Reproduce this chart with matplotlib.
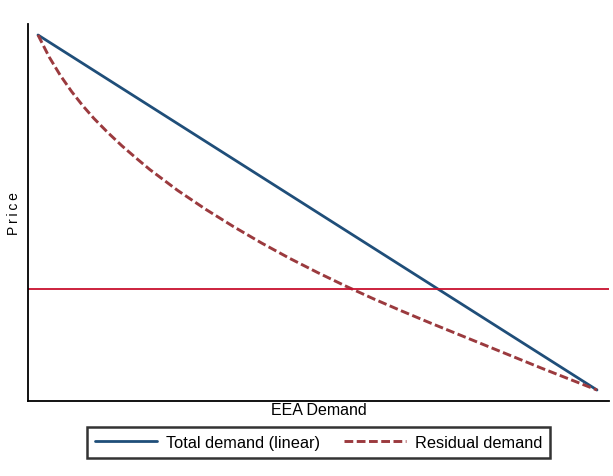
import matplotlib
matplotlib.use("Agg")
import matplotlib.pyplot as plt

plt.rcParams['font.family'] = ['Liberation Sans', 'DejaVu Sans']

# Quantity (share of max) and price (share of max)
total_q = [0, 100]
total_p = [100, 0]

residual_q = [0, 2, 4, 6, 8, 10, 12.5, 15, 17.5, 20, 25, 30, 35, 40, 45, 50,
              55, 60, 65, 70, 75, 80, 85, 90, 95, 100]
residual_p = [100, 93.8, 88.6, 84.1, 80.1, 76.5, 72.5, 68.8, 65.4, 62.1, 56.2,
              50.9, 46.0, 41.4, 37.1, 33.1, 29.3, 25.7, 22.3, 19.0, 15.8, 12.6,
              9.4, 6.2, 3.1, 0]

price_level = 28.5

fig = plt.figure(figsize=(6.13, 4.77), dpi=100)
ax = fig.add_axes([28 / 613, 75 / 477, 581 / 613, 377 / 477])

ax.plot(total_q, total_p, color='#1f4e79', lw=2.0, label='Total demand (linear)',
        solid_capstyle='round')
ax.plot(residual_q, residual_p, color='#9b3a3e', lw=2.1, dashes=(3.0, 1.2),
        label='Residual demand')
ax.axhline(price_level, color='#c8102e', lw=1.3)

ax.set_xlim(-1.79, 102.15)
ax.set_ylim(-3.1, 103.1)
ax.set_xticks([])
ax.set_yticks([])
for side in ('top', 'right'):
    ax.spines[side].set_visible(False)
for side in ('left', 'bottom'):
    ax.spines[side].set_color('black')
    ax.spines[side].set_linewidth(1.3)

ax.set_xlabel('EEA Demand', fontsize=11.5, labelpad=1)
ax.set_ylabel('P\u2009r\u2009i\u2009c\u2009e', fontsize=10, labelpad=5)

leg = ax.legend(loc='upper center', bbox_to_anchor=(0.5, -0.069), ncol=2,
                frameon=True, fancybox=False, fontsize=11.8, handlelength=3.8,
                columnspacing=1.5, borderpad=0.5, handletextpad=0.5,
                borderaxespad=0)
leg.get_frame().set_edgecolor('black')
leg.get_frame().set_linewidth(1.8)

fig.savefig('out.png', dpi=100, facecolor='white')
